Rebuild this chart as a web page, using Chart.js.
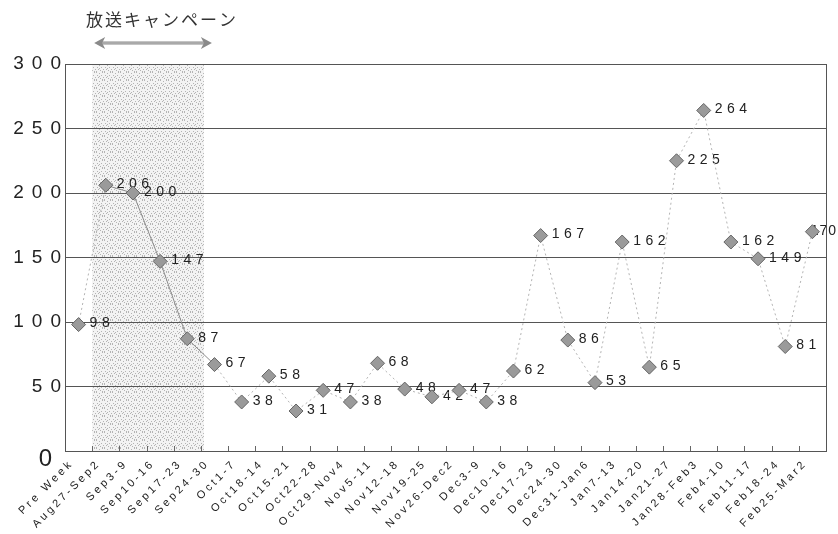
<!DOCTYPE html>
<html>
<head>
<meta charset="utf-8">
<script src="https://cdn.jsdelivr.net/npm/chart.js@4.4.1/dist/chart.umd.min.js"></script>
<style>
  html, body { margin: 0; padding: 0; background: #ffffff; }
  #wrap { width: 838px; height: 534px; position: relative; }
</style>
</head>
<body>
<div id="wrap"><canvas id="c" width="838" height="534"></canvas></div>
<script>
// Weekly counts, before / during / after the broadcast campaign
const weeks = [
  'Pre Week', 'Aug27-Sep2', 'Sep3-9', 'Sep10-16', 'Sep17-23', 'Sep24-30',
  'Oct1-7', 'Oct18-14', 'Oct15-21', 'Oct22-28', 'Oct29-Nov4', 'Nov5-11',
  'Nov12-18', 'Nov19-25', 'Nov26-Dec2', 'Dec3-9', 'Dec10-16', 'Dec17-23',
  'Dec24-30', 'Dec31-Jan6', 'Jan7-13', 'Jan14-20', 'Jan21-27', 'Jan28-Feb3',
  'Feb4-10', 'Feb11-17', 'Feb18-24', 'Feb25-Mar2'
];
const counts = [
  98, 206, 200, 147, 87, 67, 38, 58, 31, 47, 38, 68, 48, 42,
  47, 38, 62, 167, 86, 53, 162, 65, 225, 264, 162, 149, 81, 170
];
const yTickValues = [0, 50, 100, 150, 200, 250, 300];

// Campaign period: first and last week index of the broadcast
const campaignWeeks = [1, 4];
const campaignTitle = '放送キャンペーン';

// Stippled fill for the campaign band
function stipplePattern(ctx) {
  const p = document.createElement('canvas');
  p.width = 8; p.height = 8;
  const g = p.getContext('2d');
  g.fillStyle = '#f3f3f3';
  g.fillRect(0, 0, 8, 8);
  g.fillStyle = '#b4b4b4';
  const dots = [[0,0],[3,1],[6,0],[1,3],[5,3],[2,5],[7,5],[4,6],[0,7],[6,7],[3,4]];
  dots.forEach(([x, y]) => g.fillRect(x, y, 1, 1));
  return ctx.createPattern(p, 'repeat');
}

function spacedLabels(scale, spacing) {
  if (scale.__spaced) return;
  const orig = scale.drawLabels;
  scale.drawLabels = function (area) {
    const c = this.ctx;
    c.save();
    c.letterSpacing = spacing;
    orig.call(this, area);
    c.restore();
  };
  scale.__spaced = true;
}

const decor = {
  id: 'decor',
  beforeDraw(chart) {
    spacedLabels(chart.scales.x, '3px');
    spacedLabels(chart.scales.y, '8px');
    const { ctx, chartArea: a, scales: { x } } = chart;
    ctx.save();
    ctx.fillStyle = '#ffffff';
    ctx.fillRect(0, 0, chart.width, chart.height);
    // campaign band
    const bx0 = x.getPixelForValue(campaignWeeks[0] - 0.5);
    const bx1 = x.getPixelForValue(campaignWeeks[1] + 0.5) + 3;
    ctx.fillStyle = stipplePattern(ctx);
    ctx.fillRect(bx0, a.top, bx1 - bx0, a.bottom - a.top);
    ctx.restore();
  },
  beforeDatasetsDraw(chart) {
    // value labels, drawn first so the markers sit on top
    const { ctx } = chart;
    const meta = chart.getDatasetMeta(0);
    ctx.save();
    ctx.fillStyle = '#222';
    ctx.font = '14px "Liberation Sans", Arial, sans-serif';
    ctx.textAlign = 'left';
    ctx.textBaseline = 'middle';
    meta.data.forEach((pt, i) => {
      const s = String(counts[i]);
      ctx.letterSpacing = '4.5px';
      let w = ctx.measureText(s).width;
      let tx = pt.x + 11;
      if (tx + w > chart.width - 2) {
        ctx.letterSpacing = '1px';
        w = ctx.measureText(s).width;
        tx = chart.width - 1 - w;
      }
      ctx.fillText(s, tx, pt.y - 1);
    });
    ctx.restore();
  },
  afterDraw(chart) {
    const { ctx, chartArea: a, scales: { x, y } } = chart;
    ctx.save();
    // right frame edge
    ctx.strokeStyle = '#555';
    ctx.lineWidth = 1;
    ctx.beginPath();
    ctx.moveTo(Math.round(a.right) + 0.5, a.top);
    ctx.lineTo(Math.round(a.right) + 0.5, a.bottom);
    ctx.stroke();
    // small inward tick marks between weeks
    ctx.strokeStyle = '#666';
    for (let i = 0; i < weeks.length - 1; i++) {
      const px = Math.round(x.getPixelForValue(i + 0.5)) + 0.5;
      ctx.beginPath();
      ctx.moveTo(px, a.bottom);
      ctx.lineTo(px, a.bottom - 5);
      ctx.stroke();
    }
    // zero label, set lower and larger than the other tick labels
    ctx.fillStyle = '#222';
    ctx.font = '24px "Liberation Sans", Arial, sans-serif';
    ctx.textAlign = 'right';
    ctx.textBaseline = 'middle';
    ctx.fillText('0', a.left - 13, y.getPixelForValue(0) + 8);

    // campaign arrow and title
    const ax0 = x.getPixelForValue(campaignWeeks[0] - 0.5) + 2;
    const ax1 = x.getPixelForValue(campaignWeeks[1] + 0.5) + 11;
    const ay = 43;
    ctx.strokeStyle = '#8a8a8a';
    ctx.lineWidth = 3;
    ctx.beginPath();
    ctx.moveTo(ax0 + 8, ay);
    ctx.lineTo(ax1 - 8, ay);
    ctx.stroke();
    ctx.strokeStyle = '#c8c8c8';
    ctx.lineWidth = 1;
    ctx.beginPath();
    ctx.moveTo(ax0 + 8, ay);
    ctx.lineTo(ax1 - 8, ay);
    ctx.stroke();
    [[ax0, 1], [ax1, -1]].forEach(([tx, d]) => {
      ctx.beginPath();
      ctx.moveTo(tx, ay);
      ctx.lineTo(tx + d * 11, ay - 6);
      ctx.lineTo(tx + d * 8, ay);
      ctx.lineTo(tx + d * 11, ay + 6);
      ctx.closePath();
      ctx.fillStyle = '#8a8a8a';
      ctx.fill();
    });
    ctx.fillStyle = '#333';
    ctx.font = '17px "Noto Sans CJK JP", sans-serif';
    ctx.textAlign = 'left';
    ctx.textBaseline = 'middle';
    ctx.letterSpacing = '2px';
    ctx.fillText(campaignTitle, 86, 20);
    ctx.restore();
  }
};

new Chart(document.getElementById('c'), {
  type: 'line',
  data: {
    labels: weeks,
    datasets: [{
      data: counts,
      borderWidth: 1,
      borderColor: '#8c8c8c',
      pointStyle: 'rectRot',
      pointRadius: 7,
      pointHoverRadius: 7,
      pointBackgroundColor: '#9a9a9a',
      pointBorderColor: '#666666',
      pointBorderWidth: 1,
      tension: 0,
      segment: {
        borderDash: c => (c.p0DataIndex >= 1 && c.p0DataIndex <= 4) ? undefined : [2, 3],
        borderColor: c => (c.p0DataIndex >= 1 && c.p0DataIndex <= 4) ? '#8c8c8c' : '#b4b4b4'
      }
    }]
  },
  options: {
    responsive: false,
    animation: false,
    events: [],
    layout: { padding: { top: 64, right: 12, left: 0, bottom: 0 } },
    plugins: { legend: { display: false }, tooltip: { enabled: false } },
    scales: {
      x: {
        type: 'category',
        offset: true,
        grid: { display: true, drawOnChartArea: false, drawTicks: false, color: '#555' },
        border: { display: true, color: '#555', width: 1 },
        ticks: {
          autoSkip: false,
          maxRotation: 45,
          minRotation: 45,
          padding: 6,
          labelOffset: -7,
          color: '#222',
          font: { family: '"Liberation Sans", Arial, sans-serif', size: 11 }
        },
        afterFit(s) { s.height = 83; }
      },
      y: {
        min: 0,
        max: 300,
        afterBuildTicks(s) { s.ticks = yTickValues.map(v => ({ value: v })); },
        grid: { color: '#555', lineWidth: 1, drawTicks: false },
        border: { display: true, color: '#555', width: 1 },
        ticks: {
          padding: -4,
          color: '#222',
          font: { family: '"Liberation Sans", Arial, sans-serif', size: 19 },
          callback: v => (v === 0 ? '' : String(v))
        },
        afterFit(s) { s.width = 65; }
      }
    }
  },
  plugins: [decor]
});
</script>
</body>
</html>
